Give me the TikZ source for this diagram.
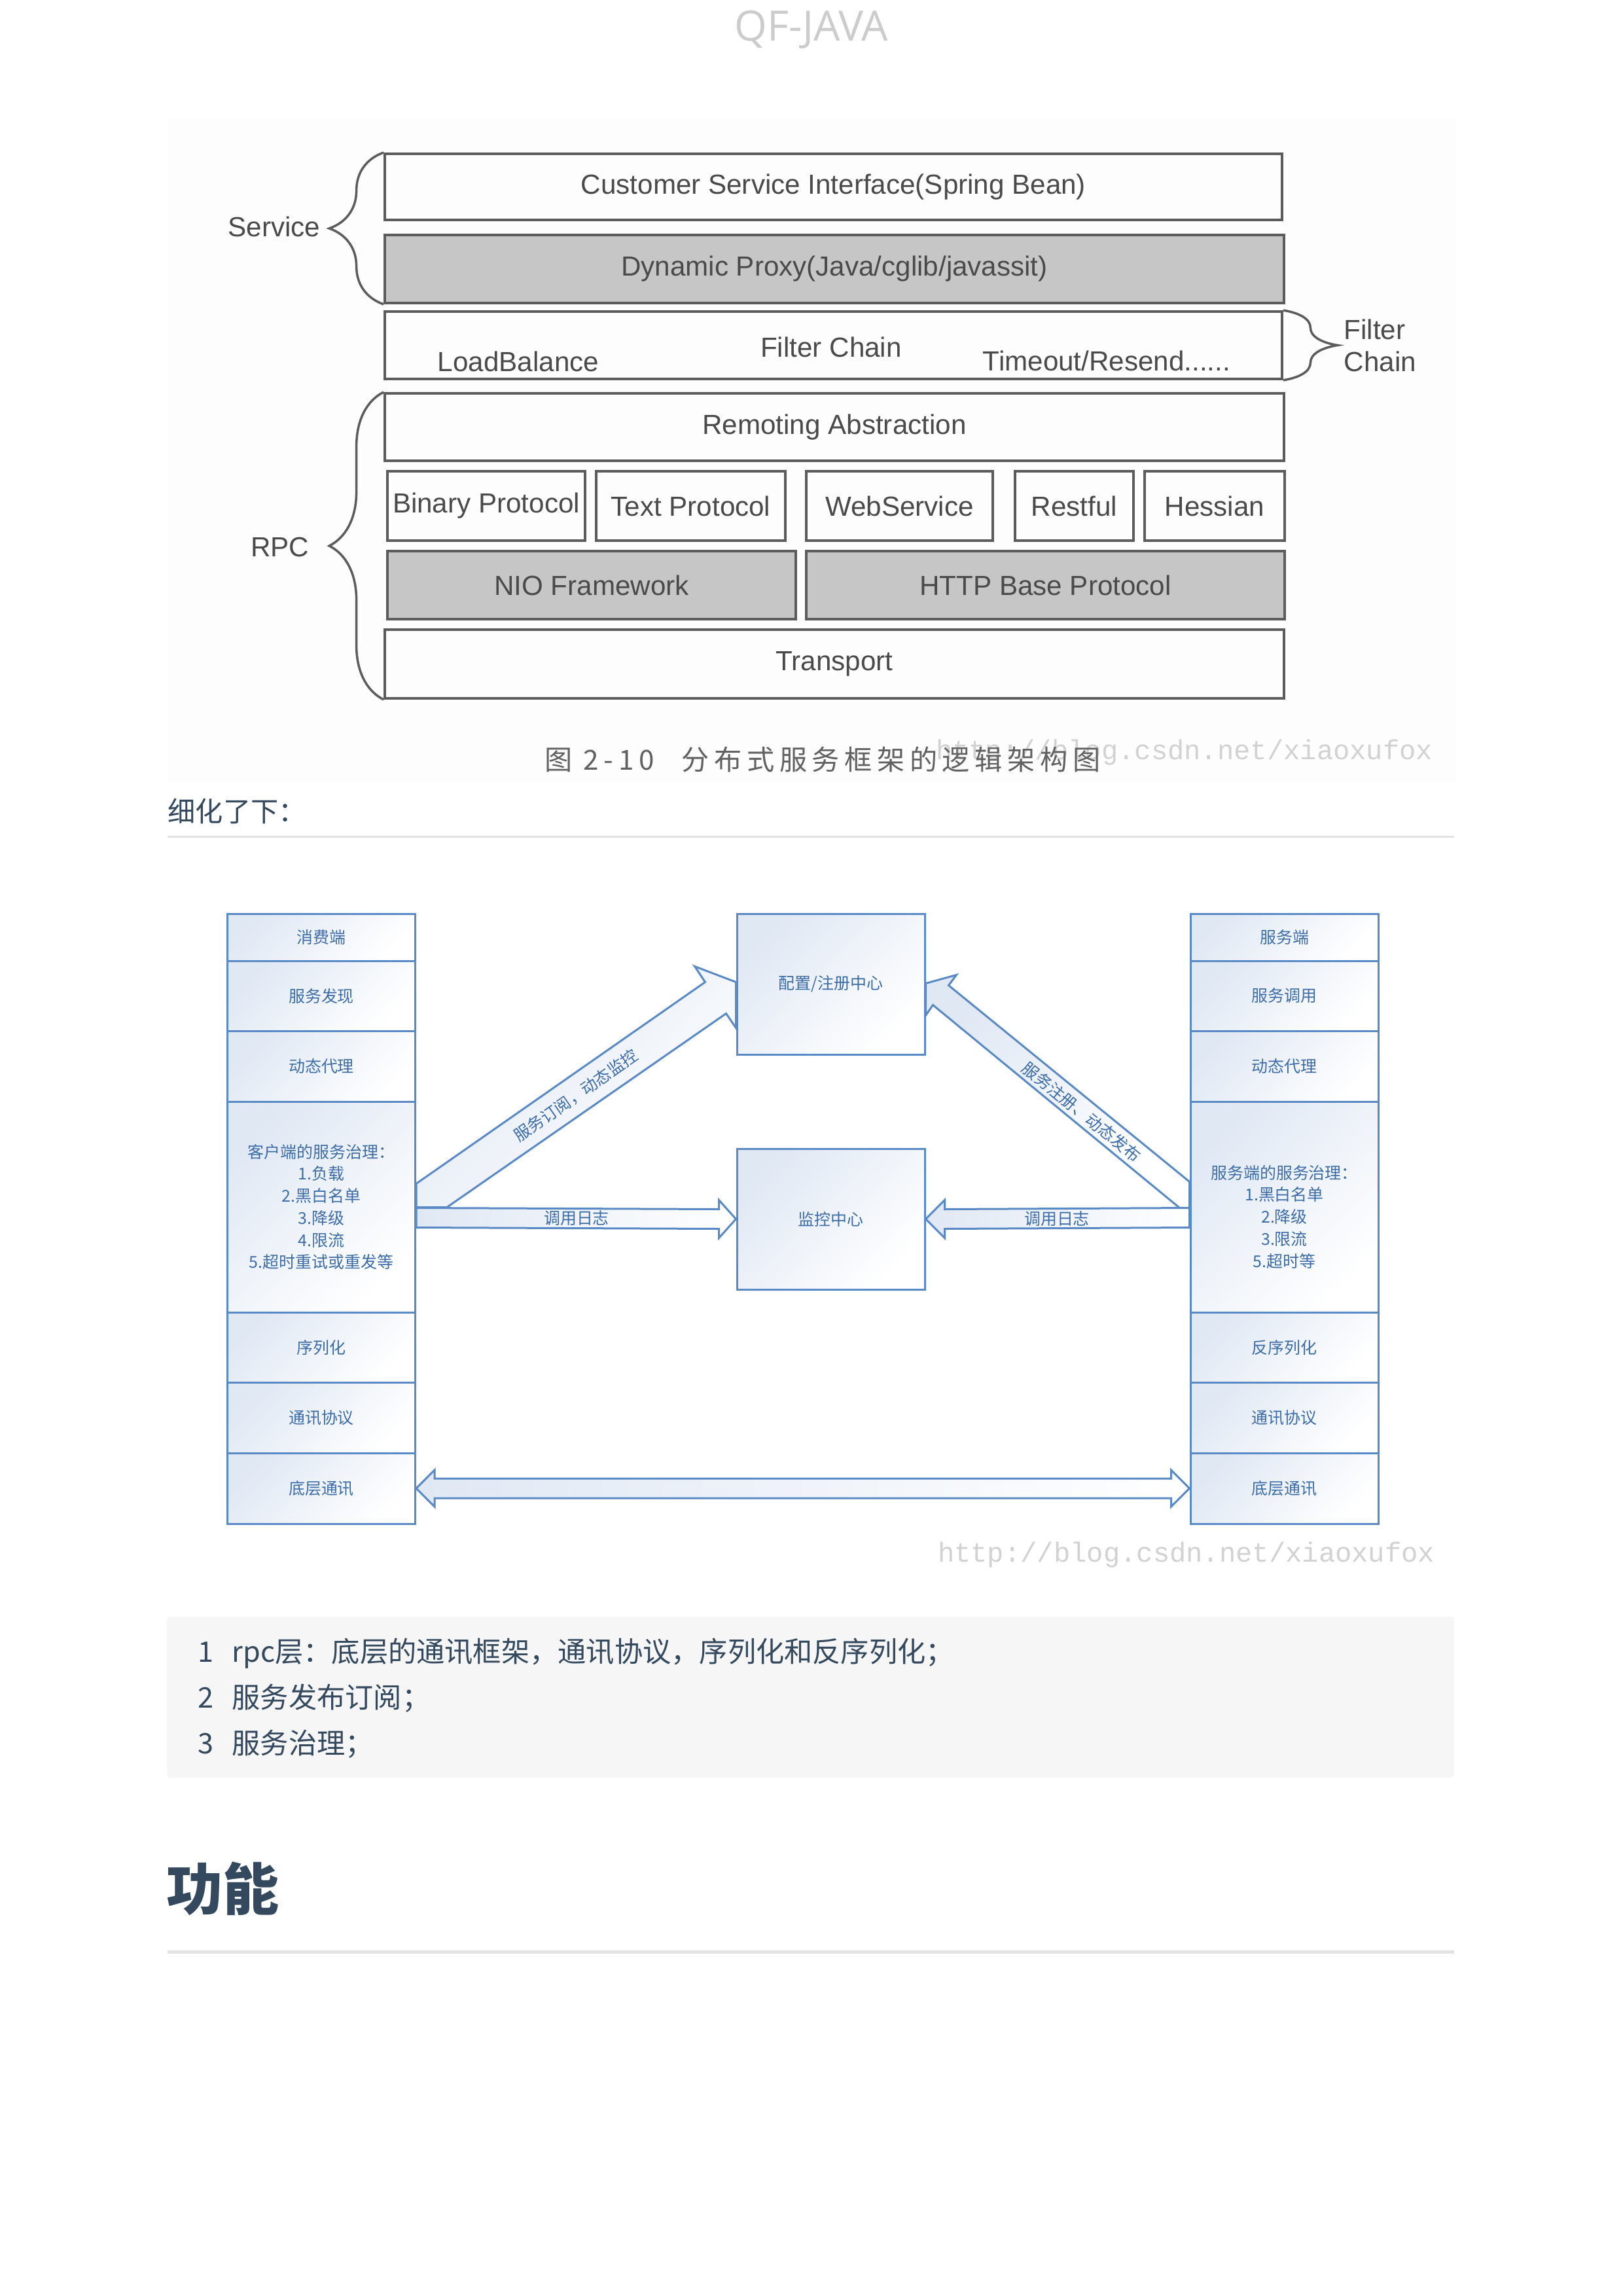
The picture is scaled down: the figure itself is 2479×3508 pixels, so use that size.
\documentclass[tikz,border=0pt]{standalone}
\usepackage{fontspec}
\newfontfamily\cjk{Noto Sans CJK SC}
\newfontfamily\capfont[LetterSpace=18]{Noto Sans CJK SC}
\newfontfamily\scanfont{Liberation Sans}
\newfontfamily\headfont{Open Sans}
\newfontfamily\markfont{Liberation Mono}
\usetikzlibrary{calc,decorations.pathreplacing}
\definecolor{lineblue}{HTML}{5A8AC6}
\definecolor{txtblue}{HTML}{3D6DA8}
\definecolor{shadeblue}{HTML}{E0E8F4}
\definecolor{scangray}{HTML}{C6C6C6}
\definecolor{inkgray}{HTML}{4A4A4A}
\definecolor{slate}{HTML}{34495E}
\definecolor{rulegray}{HTML}{E3E3E3}
\definecolor{codebg}{HTML}{F6F6F6}
\definecolor{markgray}{HTML}{D2D2D2}
\definecolor{headgray}{HTML}{CCCCCC}

\begin{document}
\begin{tikzpicture}[
  x=0.1mm,y=-0.1mm,
  layer/.style={draw=inkgray!90,line width=0.38mm,inner sep=0pt,font=\scanfont\fontsize{12}{14}\selectfont,text=inkgray},
  grayer/.style={layer,fill=scangray},
  lbl/.style={font=\scanfont\fontsize{12}{14}\selectfont,text=inkgray,inner sep=0pt},
  bracket/.style={draw=inkgray!90,line width=0.35mm,decorate,decoration={brace,amplitude=8.3mm}},
  cell/.style={draw=lineblue,line width=0.3mm,top color=shadeblue,bottom color=white,shading angle=45,minimum width=28.7mm,inner sep=0pt,align=center,text=txtblue,font=\cjk\fontsize{7.1}{9.6}\selectfont},
  blockarrow/.style={draw=lineblue,line width=0.3mm,line join=miter,top color=shadeblue,bottom color=white,shading angle=45},
  flatarrow/.style={blockarrow,left color=shadeblue,right color=white},
  alab/.style={text=txtblue,font=\cjk\fontsize{7.1}{9}\selectfont,inner sep=0pt},
  body/.style={text=slate,font=\cjk\fontsize{12}{14}\selectfont,inner sep=0pt},
  wmark/.style={text=markgray,font=\markfont\fontsize{12}{14}\selectfont,inner sep=0pt}
]
\useasboundingbox (0,0) rectangle (2479,3508);
\fill[white] (0,0) rectangle (2479,3508);

\node[text=headgray,font=\headfont\fontsize{18.2}{20}\selectfont,inner sep=0pt,anchor=base] (head) at (1240,63) {QF-JAVA};

\fill[black!0.7] (257,179) rectangle (2226,1197);

\node[layer,minimum width=137.1mm,minimum height=10.1mm] (cust) at (1273.5,285.5) {Customer Service Interface(Spring Bean)};
\node[grayer,minimum width=137.4mm,minimum height=10.4mm] (proxy) at (1275,411) {Dynamic Proxy(Java/cglib/javassit)};
\node[layer,minimum width=137.1mm,minimum height=10.3mm] (filt) at (1273.5,527.5) {};
\node[lbl] (fcname) at (1270,530) {Filter Chain};
\node[lbl] (lb) at (792,552) {LoadBalance};
\node[lbl] (tmo) at (1691,551) {Timeout/Resend......};
\node[layer,minimum width=137.4mm,minimum height=10.3mm] (remote) at (1275,652.5) {Remoting Abstraction};

\foreach \nm/\xa/\xb/\txt in {bin/592/894/Binary Protocol,txtp/911/1200/Text Protocol,web/1232/1517/WebService,rest/1551/1732/Restful,hes/1749/1963/Hessian}{
  \node[layer,minimum width=(\xb-\xa)*0.1mm,minimum height=10.6mm] (\nm) at ({(\xa+\xb)/2},773) {\txt};
}

\node[grayer,minimum width=62.4mm,minimum height=10.4mm] (nio) at (904,894) {NIO Framework};
\node[grayer,minimum width=73.1mm,minimum height=10.4mm] (http) at (1597.5,894) {HTTP Base Protocol};
\node[layer,minimum width=137.4mm,minimum height=10.5mm] (trans) at (1275,1014.5) {Transport};

\draw[bracket] (proxy.south west) -- (cust.north west);
\draw[bracket] (trans.south west) -- (remote.north west);
\draw[bracket] (filt.north east) -- (filt.south east);
\node[lbl,anchor=east] (svc) at (490,346) {Service};
\node[lbl,anchor=east] (rpc) at (473,836) {RPC};
\node[lbl,anchor=west,align=left,font=\scanfont\fontsize{12}{13.7}\selectfont] (fcl) at (2053,528) {Filter\\Chain};

\node[wmark,anchor=east] (wm1) at (2190,1150) {http://blog.csdn.net/xiaoxufox};
\node[text=black!62,font=\capfont\fontsize{12}{14}\selectfont,inner sep=0pt] (cap) at (1257,1160) {图 2-10\quad 分布式服务框架的逻辑架构图};

\node[body,anchor=base west] (refine) at (256,1255) {细化了下：};
\draw[rulegray,line width=0.3mm] (256,1278) -- (2222,1278);

\foreach \nm/\y/\h/\txt in {c1/1432/72/消费端,c2/1521.5/107/服务发现,c3/1629/108/动态代理,cgov/1844/322/{客户端的服务治理：\\1.负载\\2.黑白名单\\3.降级\\4.限流\\5.超时重试或重发等},c5/2058.5/107/序列化,c6/2166/108/通讯协议,cbot/2274/108/底层通讯}{
  \node[cell,minimum height=\h*0.1mm] (\nm) at (491,\y) {\txt};
}
\foreach \nm/\y/\h/\txt in {s1/1432/72/服务端,s2/1521.5/107/服务调用,s3/1629/108/动态代理,sgov/1844/322/{},s5/2058.5/107/反序列化,s6/2166/108/通讯协议,sbot/2274/108/底层通讯}{
  \node[cell,minimum height=\h*0.1mm] (\nm) at (1962.5,\y) {\txt};
}
\node[alab,align=center,font=\cjk\fontsize{7.1}{9.6}\selectfont] (sgovtxt) at ($(sgov.center)+(0,15)$) {服务端的服务治理：\\1.黑白名单\\2.降级\\3.限流\\5.超时等};

\node[cell,minimum height=21.5mm] (reg) at (1269.5,1503.5) {配置/注册中心};
\node[cell,minimum height=21.5mm] (mon) at (1269.5,1862.5) {监控中心};

\draw[blockarrow] ($(cgov.north east)+(0,127)$) -- ($(reg.north west)+(-47,106)$) -- ($(reg.north west)+(-63,82)$) -- ($(reg.north west)+(0,106)$) -- ($(reg.north west)+(0,176)$) -- ($(reg.north west)+(-15,154)$) -- ($(cgov.north east)+(47,163)$) -- ($(cgov.north east)+(0,163)$) -- cycle;
\draw[flatarrow] ($(cgov.north east)+(0,164)$) -- ($(mon.west)+(-26,-15)$) -- ($(mon.west)+(-26,-29)$) -- (mon.west) -- ($(mon.west)+(-26,29)$) -- ($(mon.west)+(-26,15)$) -- ($(cgov.north east)+(0,194)$) -- cycle;
\draw[blockarrow] ($(sgov.north west)+(0,124)$) -- ($(reg.north east)+(35,111)$) -- ($(reg.north east)+(47,95)$) -- ($(reg.north east)+(0,108)$) -- ($(reg.north east)+(0,157)$) -- ($(reg.north east)+(11,141)$) -- ($(sgov.north west)+(-15,164)$) -- ($(sgov.north west)+(0,164)$) -- cycle;
\draw[flatarrow] ($(sgov.north west)+(0,164)$) -- ($(mon.east)+(29,-15)$) -- ($(mon.east)+(29,-29)$) -- (mon.east) -- ($(mon.east)+(29,29)$) -- ($(mon.east)+(29,15)$) -- ($(sgov.north west)+(0,194)$) -- cycle;
\draw[flatarrow] (cbot.east) -- ($(cbot.east)+(28,-28)$) -- ($(cbot.east)+(28,-15)$) -- ($(sbot.west)+(-28,-15)$) -- ($(sbot.west)+(-28,-28)$) -- (sbot.west) -- ($(sbot.west)+(-28,28)$) -- ($(sbot.west)+(-28,15)$) -- ($(cbot.east)+(28,15)$) -- ($(cbot.east)+(28,28)$) -- cycle;

\node[alab,rotate=35] (sublab) at (880,1674) {服务订阅，动态监控};
\node[alab,rotate=-39] (reglab) at (1653,1699) {服务注册、动态发布};
\node[alab] (logl) at (881,1861) {调用日志};
\node[alab] (logr) at (1615,1862) {调用日志};

\node[wmark,anchor=east] (wm2) at (2193,2376) {http://blog.csdn.net/xiaoxufox};

\fill[codebg,rounded corners=0.6mm] (255,2470) rectangle (2222,2716);
\foreach \i/\y/\txt in {1/2539/rpc层：底层的通讯框架，通讯协议，序列化和反序列化；,2/2609/服务发布订阅；,3/2679/服务治理；}{
  \node[body,anchor=base west,font=\cjk\fontsize{12.3}{14}\selectfont] (num\i) at (302,\y) {\i};
  \node[body,anchor=base west,font=\cjk\fontsize{12.3}{14}\selectfont] (line\i) at (354,\y) {\txt};
}

\node[body,anchor=base west,font=\cjk\bfseries\fontsize{24.5}{28}\selectfont] (func) at (254,2918) {功能};
\draw[rulegray,line width=0.5mm] (256,2982) -- (2222,2982);

\end{tikzpicture}
\end{document}
